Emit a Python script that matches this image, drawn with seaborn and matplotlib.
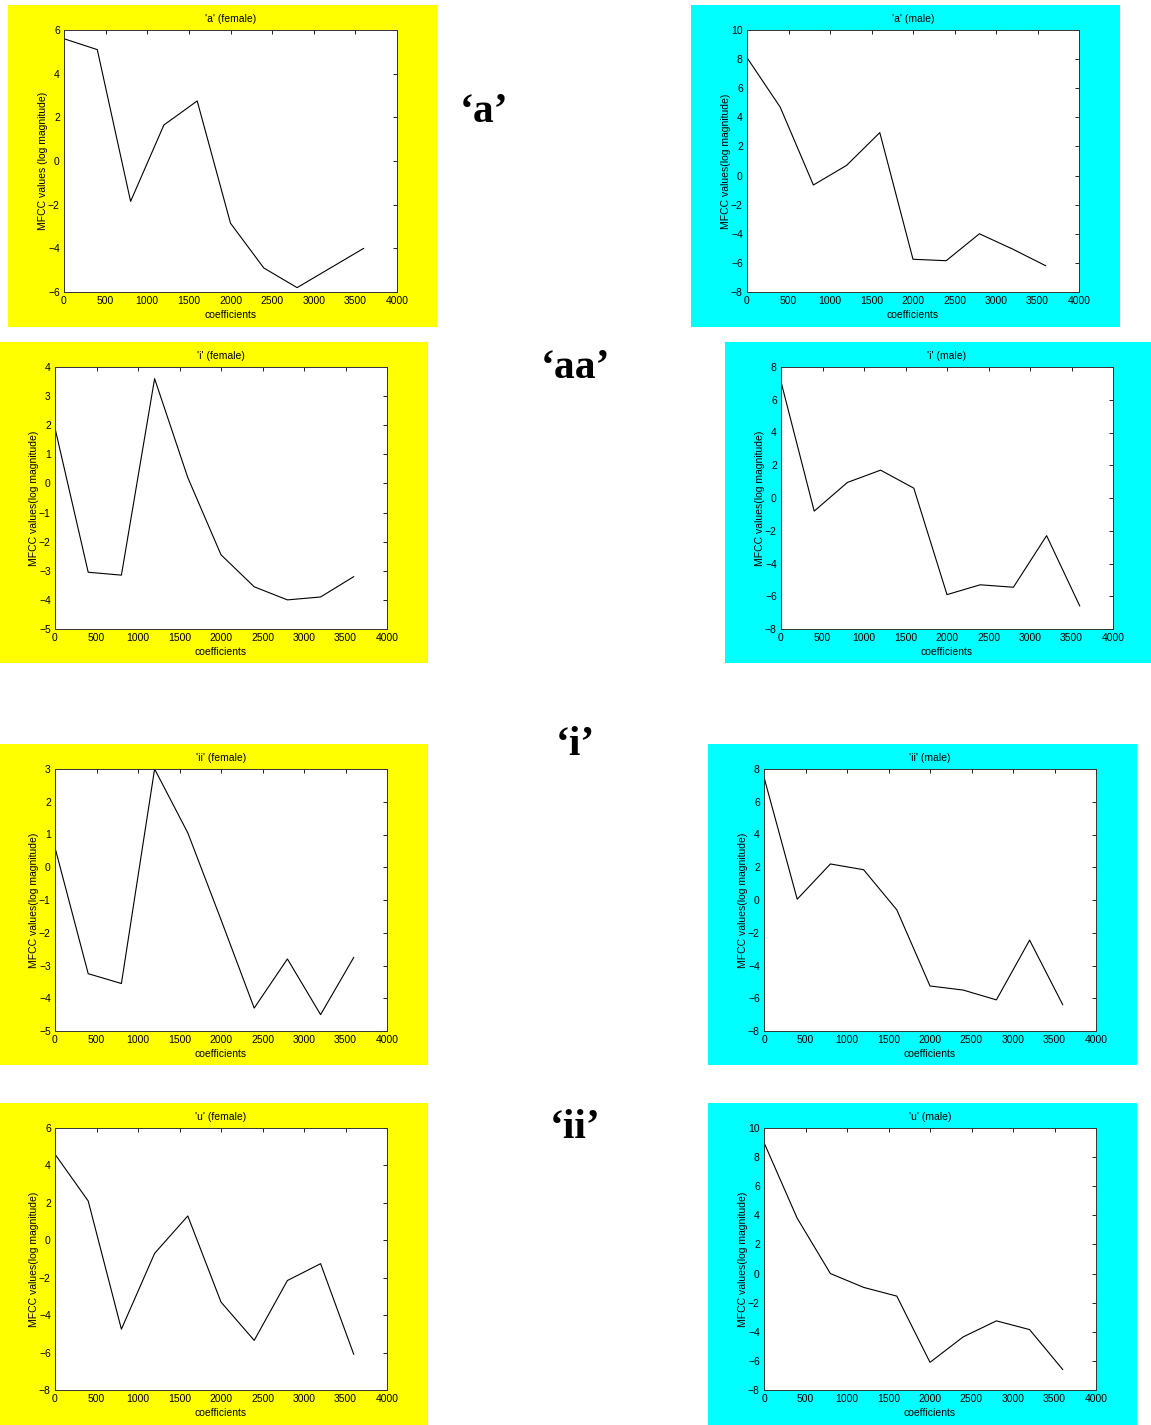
import numpy as np
import pandas as pd
import matplotlib

matplotlib.use('Agg')
import matplotlib.pyplot as plt
from matplotlib.patches import Rectangle
import seaborn as sns

# coeficientes (eixo x) comuns a todos os graficos
coefs = [0, 400, 800, 1200, 1600, 2000, 2400, 2800, 3200, 3600]

a_female = [5.6, 5.1, -1.85, 1.65, 2.75, -2.85, -4.9, -5.8, -4.9, -4.0]
a_male = [8.1, 4.7, -0.65, 0.7, 2.95, -5.75, -5.85, -4.0, -5.05, -6.2]
i_female = [1.9, -3.05, -3.15, 3.6, 0.2, -2.45, -3.55, -4.0, -3.9, -3.2]
i_male = [7.1, -0.8, 0.95, 1.7, 0.6, -5.9, -5.3, -5.45, -2.3, -6.6]
ii_female = [0.6, -3.25, -3.55, 3.0, 1.05, -1.6, -4.3, -2.8, -4.5, -2.75]
ii_male = [7.5, 0.05, 2.2, 1.85, -0.6, -5.25, -5.5, -6.1, -2.45, -6.4]
u_female = [4.6, 2.1, -4.75, -0.7, 1.3, -3.3, -5.35, -2.15, -1.25, -6.1]
u_male = [9.0, 3.8, 0.0, -0.95, -1.55, -6.1, -4.35, -3.25, -3.85, -6.6]

titulos = ["'a' (female)", "'a' (male)", "'i' (female)", "'i' (male)",
           "'ii' (female)", "'ii' (male)", "'u' (female)", "'u' (male)"]
ylabels = ['MFCC values (log magnitude)'] + ['MFCC values(log magnitude)'] * 7
limites_y = [(-6, 6, 2), (-8, 10, 2), (-5, 4, 1), (-8, 8, 2),
             (-5, 3, 1), (-8, 8, 2), (-8, 6, 2), (-8, 10, 2)]
rotulos_vogais = ["\u2018a\u2019", "\u2018aa\u2019", "\u2018i\u2019", "\u2018ii\u2019"]

series = [a_female, a_male, i_female, i_male, ii_female, ii_male, u_female, u_male]

# caixas coloridas (px): x0, y0, x1, y1 ; eixos (px): x0, y0, x1, y1
caixas = [(8, 5, 437, 327), (691, 5, 1120, 327),
          (0, 342, 428, 663), (725, 342, 1151, 663),
          (0, 744, 428, 1065), (708, 744, 1137, 1065),
          (0, 1103, 428, 1425), (708, 1103, 1137, 1425)]
eixos = [(64, 30, 397, 292), (747, 30, 1079, 292),
         (55, 367, 387, 629), (781, 367, 1113, 629),
         (55, 769, 387, 1031), (764, 769, 1096, 1031),
         (55, 1128, 387, 1390), (764, 1128, 1096, 1390)]
pos_rotulos = [(484, 112), (575, 368), (575, 745), (575, 1128)]

W, H = 1151, 1425

sns.set_style('white')
plt.rcParams['font.family'] = ['Liberation Sans', 'DejaVu Sans']
plt.rcParams['text.color'] = 'black'
plt.rcParams['axes.labelcolor'] = 'black'

fig = plt.figure(figsize=(W / 100, H / 100), dpi=100)
fig.patch.set_facecolor('white')

for k in range(8):
    cor = '#ffff00' if k % 2 == 0 else '#00ffff'
    x0, y0, x1, y1 = caixas[k]
    fig.patches.append(Rectangle((x0 / W, 1 - y1 / H), (x1 - x0) / W, (y1 - y0) / H,
                                 transform=fig.transFigure, facecolor=cor,
                                 edgecolor='none', zorder=-5))

    ex0, ey0, ex1, ey1 = eixos[k]
    ax = fig.add_axes([ex0 / W, 1 - ey1 / H, (ex1 - ex0) / W, (ey1 - ey0) / H])
    ax.set_zorder(2)
    ax.set_facecolor('white')
    df = pd.DataFrame({'coef': coefs, 'valor': series[k]})
    sns.lineplot(data=df, x='coef', y='valor', ax=ax, color='black', linewidth=0.8)

    ymin, ymax, passo = limites_y[k]
    ax.set_xlim(0, 4000)
    ax.set_ylim(ymin, ymax)
    ax.set_xticks(np.arange(0, 4001, 500))
    ax.set_yticks(np.arange(ymin, ymax + 0.1, passo))
    ax.tick_params(direction='in', length=3, width=0.6, labelsize=7.5, pad=3,
                   top=True, right=True, colors='black')
    for sp in ax.spines.values():
        sp.set_color('#333333')
        sp.set_linewidth(0.7)
    ax.set_title(titulos[k], fontsize=7.5, pad=6, color='black')
    ax.set_xlabel('coefficients', fontsize=7.5, labelpad=3)
    ax.set_ylabel(ylabels[k], fontsize=7.5, labelpad=0)

for texto, (px, py) in zip(rotulos_vogais, pos_rotulos):
    fig.text(px / W, 1 - py / H, texto, fontsize=30, fontweight='bold', color='black',
             family=['Liberation Serif', 'DejaVu Serif'], ha='center', va='center')

fig.savefig('out.png', dpi=100)
